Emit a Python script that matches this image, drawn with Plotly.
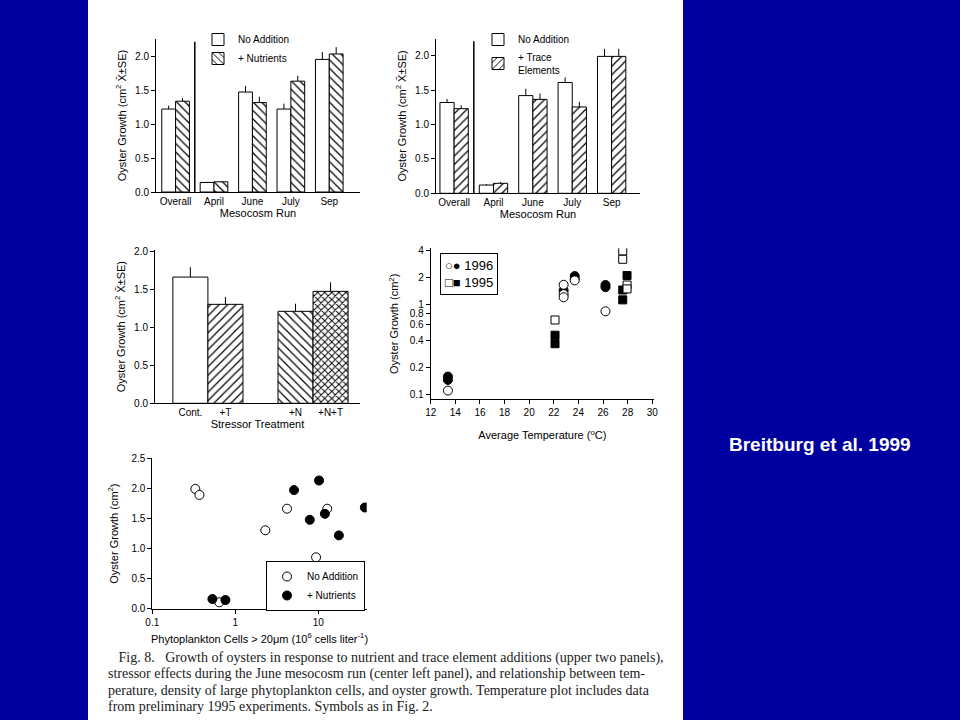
import plotly.graph_objects as go

# ---------------- data ----------------
runs = ["Overall", "April", "June", "July", "Sep"]

p1_no_add = [1.22, 0.14, 1.47, 1.22, 1.95]
p1_no_add_se = [0.05, 0.01, 0.09, 0.08, 0.11]
p1_nutr = [1.335, 0.15, 1.315, 1.63, 2.03]
p1_nutr_se = [0.045, 0.01, 0.085, 0.08, 0.10]

p2_no_add = [1.32, 0.12, 1.42, 1.61, 1.99]
p2_no_add_se = [0.05, 0.015, 0.10, 0.075, 0.11]
p2_trace = [1.23, 0.145, 1.365, 1.255, 1.99]
p2_trace_se = [0.05, 0.02, 0.085, 0.075, 0.11]

treatments = ["Cont.", "+T", "+N", "+N+T"]
treat_mean = [1.663, 1.304, 1.212, 1.475]
treat_se = [0.13, 0.096, 0.10, 0.12]
treat_pattern = ["", "/", "\\", "x"]

t96_open_x = [13.4, 22.8, 22.8, 22.8, 23.7, 26.2]
t96_open_y = [0.111, 1.68, 1.32, 1.22, 1.88, 0.85]
t96_fill_x = [13.4, 13.4, 22.8, 23.7, 23.7, 26.2, 26.2]
t96_fill_y = [0.159, 0.146, 1.45, 2.1, 1.95, 1.67, 1.58]
t95_open_x = [22.1, 27.6, 27.6, 27.95, 27.95]
t95_open_y = [0.68, 4.0, 3.23, 1.67, 1.51]
t95_fill_x = [22.1, 22.1, 27.6, 27.6, 27.95]
t95_fill_y = [0.46, 0.37, 1.47, 1.14, 2.13]

phyto_na_x = [0.33, 0.37, 0.64, 2.3, 4.2, 9.4, 12.8]
phyto_na_y = [1.99, 1.89, 0.10, 1.30, 1.66, 0.85, 1.66]
phyto_nu_x = [0.53, 0.76, 5.1, 7.9, 10.2, 12.0, 17.7, 36.4]
phyto_nu_y = [0.155, 0.138, 1.97, 1.475, 2.13, 1.575, 1.215, 1.68]

temp_yticks = [0.1, 0.2, 0.4, 0.6, 0.8, 1, 2, 4]
phyto_xticks = [0.1, 1, 10]

caption_lines = [
    "\u00a0\u00a0\u00a0Fig. 8.\u00a0\u00a0\u00a0Growth of oysters in response to nutrient and trace element additions (upper two panels),",
    "stressor effects during the June mesocosm run (center left panel), and relationship between tem-",
    "perature, density of large phytoplankton cells, and oyster growth. Temperature plot includes data",
    "from preliminary 1995 experiments. Symbols as in Fig. 2.",
]

# ---------------- figure ----------------
W, H = 960, 720
BLUE = "#0000A0"
FONT = "Liberation Sans, Arial, sans-serif"
fig = go.Figure()

def px_x(p):
    return p / W

def px_y(p):
    return 1 - p / H

bw = 0.36
err_style = dict(type="data", symmetric=False, color="black", thickness=1, width=0)

# panel 1
fig.add_trace(go.Bar(x=list(range(len(runs))), y=p1_no_add, width=bw, offset=-bw,
                     marker=dict(color="white", line=dict(color="black", width=1)),
                     error_y=dict(array=p1_no_add_se, arrayminus=[0]*len(runs), **err_style),
                     name="No Addition", legend="legend", xaxis="x", yaxis="y"))
fig.add_trace(go.Bar(x=list(range(len(runs))), y=p1_nutr, width=bw, offset=0,
                     marker=dict(color="white", line=dict(color="black", width=1),
                                 pattern=dict(shape="\\", fgcolor="black", bgcolor="white", size=6, solidity=0.2)),
                     error_y=dict(array=p1_nutr_se, arrayminus=[0]*len(runs), **err_style),
                     name="+ Nutrients", legend="legend", xaxis="x", yaxis="y"))

# panel 2
fig.add_trace(go.Bar(x=list(range(len(runs))), y=p2_no_add, width=bw, offset=-bw,
                     marker=dict(color="white", line=dict(color="black", width=1)),
                     error_y=dict(array=p2_no_add_se, arrayminus=[0]*len(runs), **err_style),
                     name="No Addition", legend="legend2", xaxis="x2", yaxis="y2"))
fig.add_trace(go.Bar(x=list(range(len(runs))), y=p2_trace, width=bw, offset=0,
                     marker=dict(color="white", line=dict(color="black", width=1),
                                 pattern=dict(shape="/", fgcolor="black", bgcolor="white", size=6, solidity=0.2)),
                     error_y=dict(array=p2_trace_se, arrayminus=[0]*len(runs), **err_style),
                     name="+ Trace<br>Elements", legend="legend2", xaxis="x2", yaxis="y2"))

# panel 3
treat_x = [i + (1 if "+N" in t else 0) for i, t in enumerate(treatments)]
fig.add_trace(go.Bar(x=treat_x, y=treat_mean, width=1,
                     marker=dict(color="white", line=dict(color="black", width=1),
                                 pattern=dict(shape=treat_pattern, fgcolor="black", bgcolor="white",
                                              size=[6, 6, 6, 5], solidity=[0.2, 0.2, 0.2, 0.35])),
                     error_y=dict(array=treat_se, arrayminus=[0]*len(treatments), **err_style),
                     showlegend=False, xaxis="x3", yaxis="y3"))

# panel 4
mk_line = dict(color="black", width=1)
fig.add_trace(go.Scatter(x=t96_fill_x, y=t96_fill_y, mode="markers",
                         marker=dict(symbol="circle", size=9, color="black", line=mk_line),
                         showlegend=False, xaxis="x4", yaxis="y4"))
fig.add_trace(go.Scatter(x=t96_open_x, y=t96_open_y, mode="markers",
                         marker=dict(symbol="circle", size=9, color="white", line=mk_line),
                         showlegend=False, xaxis="x4", yaxis="y4"))
fig.add_trace(go.Scatter(x=t95_fill_x, y=t95_fill_y, mode="markers",
                         marker=dict(symbol="square", size=8, color="black", line=mk_line),
                         showlegend=False, xaxis="x4", yaxis="y4"))
fig.add_trace(go.Scatter(x=t95_open_x, y=t95_open_y, mode="markers",
                         marker=dict(symbol="square", size=8, color="white", line=mk_line),
                         showlegend=False, xaxis="x4", yaxis="y4"))

# panel 5
fig.add_trace(go.Scatter(x=phyto_na_x, y=phyto_na_y, mode="markers",
                         marker=dict(symbol="circle", size=9, color="white", line=mk_line),
                         name="No Addition", legend="legend3", xaxis="x5", yaxis="y5"))
fig.add_trace(go.Scatter(x=phyto_nu_x, y=phyto_nu_y, mode="markers",
                         marker=dict(symbol="circle", size=9, color="black", line=mk_line),
                         name="+ Nutrients", legend="legend3", xaxis="x5", yaxis="y5"))

axis_common = dict(showline=True, linecolor="black", linewidth=1, showgrid=False, zeroline=False,
                   automargin=False,
                   tickfont=dict(size=10, color="black", family=FONT), ticks="outside", ticklen=4,
                   tickcolor="black", tickwidth=1)

def atitle(t, standoff):
    return dict(text=t, font=dict(size=11, color="black", family=FONT), standoff=standoff)

cm_se = "Oyster Growth (cm<sup>2</sup> X\u0304\u00b1SE)"

layout = dict(
    template="none",
    width=W, height=H, margin=dict(l=0, r=0, t=0, b=0, pad=0), autosize=False,
    paper_bgcolor=BLUE, plot_bgcolor="white", barmode="overlay",
    font=dict(family=FONT, color="black"),
    xaxis=dict(axis_common, domain=[px_x(156), px_x(360)], range=[-0.51, 4.8], anchor="y",
               tickvals=list(range(len(runs))), ticktext=runs, ticks="",
               title=atitle("Mesocosm Run", 2)),
    yaxis=dict(axis_common, domain=[px_y(192), px_y(39)], range=[0, 2.25], anchor="x",
               tickvals=[0, 0.5, 1.0, 1.5, 2.0], tickformat=".1f", title=atitle(cm_se, 6)),
    xaxis2=dict(axis_common, domain=[px_x(436), px_x(640)], range=[-0.46, 4.72], anchor="y2",
                tickvals=list(range(len(runs))), ticktext=runs, ticks="",
                title=atitle("Mesocosm Run", 2)),
    yaxis2=dict(axis_common, domain=[px_y(193.3), px_y(38.5)], range=[0, 2.25], anchor="x2",
                tickvals=[0, 0.5, 1.0, 1.5, 2.0], tickformat=".1f", title=atitle(cm_se, 6)),
    xaxis3=dict(axis_common, domain=[px_x(155), px_x(360)], range=[-1.01, 4.84], anchor="y3",
                tickvals=treat_x, ticktext=treatments, ticks="",
                title=atitle("Stressor Treatment", 2)),
    yaxis3=dict(axis_common, domain=[px_y(403.3), px_y(250)], range=[0, 2.02], anchor="x3",
                tickvals=[0, 0.5, 1.0, 1.5, 2.0], tickformat=".1f", title=atitle(cm_se, 6)),
    xaxis4=dict(axis_common, domain=[px_x(430.7), px_x(654)], range=[12, 30.14], anchor="y4",
                tickvals=list(range(12, 31, 2)),
                title=atitle("Average Temperature (<sup>o</sup>C)", 14)),
    yaxis4=dict(axis_common, domain=[px_y(399.3), px_y(248.3)], type="log", range=[-1.052, 0.632],
                anchor="x4", tickvals=temp_yticks, ticktext=[str(v) for v in temp_yticks],
                title=atitle("Oyster Growth (cm<sup>2</sup>)", 8)),
    xaxis5=dict(axis_common, domain=[px_x(152.3), px_x(366.7)], type="log", range=[-1.0, 1.583],
                anchor="y5", tickvals=phyto_xticks, ticktext=[str(v) for v in phyto_xticks],
                title=atitle("Phytoplankton Cells > 20\u03bcm (10<sup>6</sup> cells liter<sup>-1</sup>)", 8)),
    yaxis5=dict(axis_common, domain=[px_y(608.9), px_y(458.3)], range=[-0.01, 2.5], anchor="x5",
                tickvals=[0, 0.5, 1.0, 1.5, 2.0, 2.5], tickformat=".1f",
                title=atitle("Oyster Growth (cm<sup>2</sup>)", 10)),
    legend=dict(x=px_x(198), y=px_y(25), xanchor="left", yanchor="top", bgcolor="rgba(0,0,0,0)",
                font=dict(size=10, family=FONT, color="black"), tracegroupgap=0, itemwidth=30),
    legend2=dict(x=px_x(478), y=px_y(25), xanchor="left", yanchor="top", bgcolor="rgba(0,0,0,0)",
                 font=dict(size=10, family=FONT, color="black"), tracegroupgap=0, itemwidth=30),
    legend3=dict(x=px_x(266), y=px_y(561), xanchor="left", yanchor="top", bgcolor="white",
                 bordercolor="black", borderwidth=1, font=dict(size=10, family=FONT, color="black"),
                 tracegroupgap=0, itemwidth=30),
)
fig.update_layout(**layout)

# page and separators
fig.add_shape(type="rect", xref="paper", yref="paper", x0=px_x(88), x1=px_x(683), y0=0, y1=1,
              fillcolor="white", line=dict(width=0), layer="below")
fig.add_shape(type="line", xref="x", yref="y", x0=0.5, x1=0.5, y0=0, y1=2.21,
              line=dict(color="black", width=1.5))
fig.add_shape(type="line", xref="x2", yref="y2", x0=0.5, x1=0.5, y0=0, y1=2.21,
              line=dict(color="black", width=1.5))

# panel 4 legend box
fig.add_annotation(xref="paper", yref="paper", x=px_x(440), y=px_y(253), xanchor="left", yanchor="top",
                   text="\u25cb\u25cf 1996<br>\u25a1\u25a0 1995", showarrow=False, align="left",
                   font=dict(size=13, family=FONT, color="black"),
                   bordercolor="black", borderwidth=1, borderpad=4, bgcolor="white")

# caption
for i, line in enumerate(caption_lines):
    fig.add_annotation(xref="paper", yref="paper", x=px_x(106), y=px_y(658 + i * 16.3),
                       xanchor="left", yanchor="middle", text=line, showarrow=False,
                       font=dict(size=14, family="Liberation Serif, Times New Roman, serif", color="#1a1a1a"))

# side credit
fig.add_annotation(xref="paper", yref="paper", x=px_x(820), y=px_y(444), xanchor="center", yanchor="middle",
                   text="<b>Breitburg et al. 1999</b>", showarrow=False,
                   font=dict(size=19, family=FONT, color="white"))

fig.write_html("out.html", config={"displayModeBar": False},
               post_script="document.body.style.margin='0';document.body.style.overflow='hidden';")
